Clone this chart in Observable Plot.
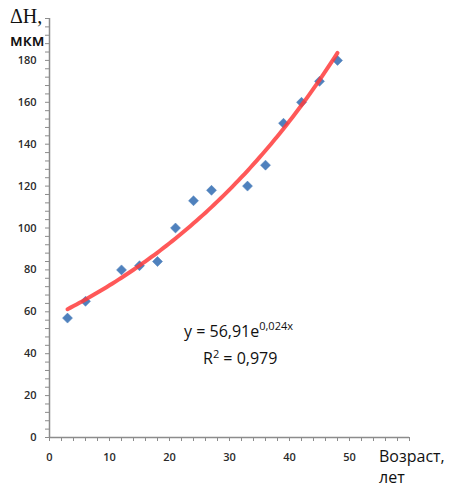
<!DOCTYPE html>
<html><head><meta charset="utf-8">
<script src="https://cdn.jsdelivr.net/npm/d3@7"></script>
<script src="https://cdn.jsdelivr.net/npm/@observablehq/plot@0.6"></script>
<style>
body{margin:0;background:#fff;}
#wrap{position:relative;width:452px;height:489px;overflow:hidden;}
.t{position:absolute;white-space:nowrap;color:#111;}
.serif{font-family:"Liberation Serif","DejaVu Serif",serif;}
.sans{font-family:"Open Sans",sans-serif;}
</style></head>
<body><div id="wrap"></div>
<script>
// data
const ages = [3, 6, 12, 15, 18, 21, 24, 27, 33, 36, 39, 42, 45, 48];
const dH   = [57, 65, 80, 82, 84, 100, 113, 118, 120, 130, 150, 160, 170, 180];
const yTickLabels = [0, 20, 40, 60, 80, 100, 120, 140, 160, 180];
const xTickLabels = [0, 10, 20, 30, 40, 50];
// exponential trendline y = a*e^(b x)
const trendA = 56.91, trendB = 0.0244;
const trendX = d3.range(3, 48.01, 0.5);

const pts = ages.map((x, i) => ({x, y: dH[i]}));
const trend = trendX.map(x => ({x, y: trendA * Math.exp(trendB * x)}));

const plot = Plot.plot({
  width: 452, height: 489,
  marginLeft: 49, marginRight: 43, marginTop: 18, marginBottom: 52,
  style: {fontFamily: "'Open Sans', sans-serif", fontSize: "11px", fontWeight: "600", color: "#2a2a2a", background: "transparent"},
  x: {domain: [0, 60]},
  y: {domain: [0, 200]},
  marks: [
    Plot.axisY({ticks: d3.range(0, 201, 4), tickSize: 4, tickPadding: 9, stroke: "#8c8c8c", fill: "#2a2a2a",
      tickFormat: d => yTickLabels.includes(d) ? String(d) : "", label: null}),
    Plot.axisX({ticks: d3.range(0, 61, 2), tickSize: 4, tickPadding: 12, stroke: "#8c8c8c", fill: "#2a2a2a",
      tickFormat: d => xTickLabels.includes(d) ? String(d) : "", label: null}),
    Plot.ruleX([0], {stroke: "#8c8c8c", strokeWidth: 1.5}),
    Plot.ruleY([0], {stroke: "#8c8c8c", strokeWidth: 1.5}),
    Plot.dot(pts, {x: "x", y: "y", symbol: "square", r: 4, rotate: 45, fill: "#4f81bd", stroke: "#4f81bd", strokeWidth: 0.5}),
    Plot.line(trend, {x: "x", y: "y", stroke: "#ff3b3b", strokeWidth: 4, strokeOpacity: 0.85, strokeLinecap: "round", curve: "natural"})
  ]
});
const wrap = document.getElementById("wrap");
plot.style.position = "absolute"; plot.style.left = "0"; plot.style.top = "0";
wrap.appendChild(plot);

function addText(html, cls, left, top, size, extra) {
  const d = document.createElement("div");
  d.className = "t " + cls;
  d.innerHTML = html;
  d.style.left = left + "px"; d.style.top = top + "px"; d.style.fontSize = size + "px";
  if (extra) Object.assign(d.style, extra);
  wrap.appendChild(d);
  return d;
}
addText("ΔH,", "serif", 10, 5, 20);
addText("мкм", "sans", 10, 29, 16, {fontWeight: "600"});
addText("Возраст,", "sans", 379, 445, 16);
addText("лет", "sans", 379, 469, 16, {lineHeight: "16px"});
addText('y = 56,91e<span style="font-size:11px;position:relative;top:-7px">0,024x</span>', "sans", 184, 320, 16);
addText("R<span style=\"font-size:11px;position:relative;top:-6px\">2</span> = 0,979", "sans", 203, 347, 16);
</script></body></html>
